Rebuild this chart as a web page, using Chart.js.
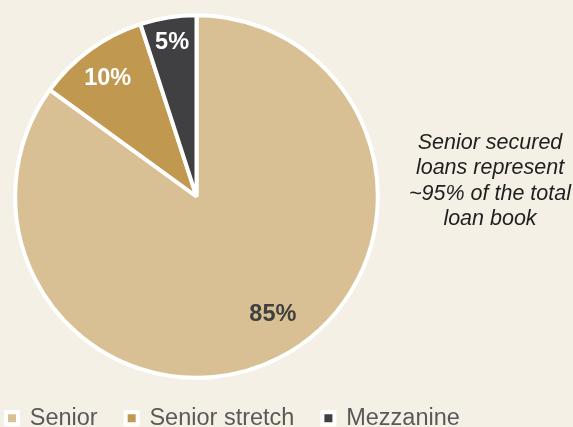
<!DOCTYPE html>
<html>
<head>
<meta charset="utf-8">
<title>Loan book split</title>
<script src="https://cdn.jsdelivr.net/npm/chart.js@4/dist/chart.umd.min.js"></script>
<style>
  html, body { margin: 0; padding: 0; background: #f5f0e6; overflow: hidden; }
  #wrap { position: relative; width: 573px; height: 427px; }
</style>
</head>
<body>
<div id="wrap"><canvas id="grafico"></canvas></div>
<script>
// dados do gráfico
const categorias = ['Senior', 'Senior stretch', 'Mezzanine'];
const valores = [85, 10, 5];
const rotulos = ['85%', '10%', '5%'];
const cores = ['#d9c094', '#c0984f', '#404043'];
const coresRotulo = ['#404040', '#ffffff', '#ffffff'];
const notaLinhas = ['Senior secured', 'loans represent', '~95% of the total', 'loan book'];

const FONTE = '"Liberation Sans", Arial, Helvetica, sans-serif';

// posição dos rótulos: [desvio do ângulo médio em graus, fração do raio]
const posRotulos = [[-6, 0.773], [-1, 0.814], [0, 0.861]];

// rótulos de porcentagem dentro das fatias
const rotulosFatias = {
    id: 'rotulosFatias',
    afterDatasetsDraw(chart) {
        const ctx = chart.ctx;
        const arcs = chart.getDatasetMeta(0).data;
        ctx.save();
        ctx.font = 'bold 23.5px ' + FONTE;
        ctx.textAlign = 'center';
        ctx.textBaseline = 'middle';
        arcs.forEach((arc, i) => {
            const p = arc.getProps(['x', 'y', 'startAngle', 'endAngle', 'outerRadius'], true);
            const ang = (p.startAngle + p.endAngle) / 2 + posRotulos[i][0] * Math.PI / 180;
            const r = p.outerRadius * posRotulos[i][1];
            ctx.fillStyle = coresRotulo[i];
            ctx.fillText(rotulos[i], p.x + Math.cos(ang) * r, p.y + Math.sin(ang) * r);
        });
        ctx.restore();
    }
};

// caixa de texto à direita, reservada no layout do Chart.js
const notaLateral = {
    id: 'notaLateral',
    beforeInit(chart) {
        const box = {
            position: 'right',
            weight: 0,
            fullSize: false,
            options: {},
            left: 0, top: 0, right: 0, bottom: 0, width: 0, height: 0,
            isHorizontal() { return false; },
            update(maxWidth, maxHeight) {
                this.width = 180;
                this.height = maxHeight;
            },
            draw() {
                const ctx = chart.ctx;
                ctx.save();
                ctx.font = 'italic 21.5px ' + FONTE;
                ctx.fillStyle = '#1f1f1f';
                ctx.textAlign = 'center';
                ctx.textBaseline = 'middle';
                const cx = (this.left + this.right) / 2 + 7;
                notaLinhas.forEach((t, i) => ctx.fillText(t, cx, 143 + i * 25.5));
                ctx.restore();
            }
        };
        Chart.layouts.addBox(chart, box);
    }
};

const ctx = document.getElementById('grafico').getContext('2d');
new Chart(ctx, {
    type: 'pie',
    data: {
        labels: categorias,
        datasets: [{
            data: valores,
            backgroundColor: cores,
            borderColor: '#ffffff',
            borderWidth: 4,
            radius: 181.3,
            clip: false
        }]
    },
    options: {
        responsive: true,
        maintainAspectRatio: false,
        animation: false,
        layout: { padding: { left: -22, top: 14.5, right: 0, bottom: -13 } },
        plugins: {
            tooltip: { enabled: false },
            legend: {
                position: 'bottom',
                align: 'start',
                labels: {
                    boxWidth: 12,
                    boxHeight: 12,
                    padding: 28,
                    color: '#595959',
                    font: { family: FONTE, size: 23.5 }
                }
            }
        }
    },
    plugins: [rotulosFatias, notaLateral]
});
</script>
</body>
</html>
